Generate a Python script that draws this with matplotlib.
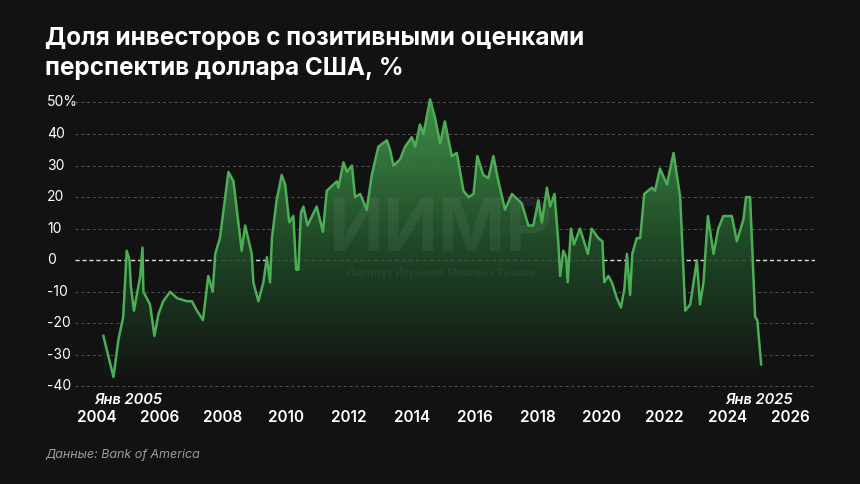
import numpy as np
import matplotlib
matplotlib.use("Agg")
import matplotlib.pyplot as plt
from matplotlib.colors import LinearSegmentedColormap

# ---------------------------------------------------------------------------
# Data
# ---------------------------------------------------------------------------
years = [
    2004.20, 2004.52, 2004.68, 2004.83, 2004.94, 2005.03, 2005.07, 2005.17, 2005.37, 2005.44,
    2005.47, 2005.68, 2005.82, 2005.95, 2006.10, 2006.32, 2006.53, 2006.85, 2007.01, 2007.17,
    2007.36, 2007.53, 2007.67, 2007.75, 2007.90, 2008.17, 2008.33, 2008.59, 2008.70, 2008.91,
    2008.96, 2009.12, 2009.28, 2009.39, 2009.49, 2009.55, 2009.70, 2009.86, 2009.97, 2010.10,
    2010.23, 2010.32, 2010.39, 2010.47, 2010.55, 2010.68, 2010.97, 2011.17, 2011.29, 2011.61,
    2011.66, 2011.82, 2011.93, 2012.09, 2012.19, 2012.35, 2012.56, 2012.72, 2012.93, 2013.20,
    2013.30, 2013.41, 2013.62, 2013.78, 2013.99, 2014.10, 2014.25, 2014.36, 2014.57, 2014.73,
    2014.89, 2015.04, 2015.26, 2015.42, 2015.63, 2015.79, 2015.95, 2016.07, 2016.26, 2016.42,
    2016.58, 2016.74, 2016.95, 2017.17, 2017.48, 2017.69, 2017.85, 2018.01, 2018.12, 2018.28,
    2018.38, 2018.52, 2018.64, 2018.70, 2018.80, 2018.89, 2018.94, 2019.04, 2019.14, 2019.33,
    2019.58, 2019.70, 2019.91, 2020.04, 2020.10, 2020.23, 2020.34, 2020.50, 2020.63, 2020.74,
    2020.82, 2020.92, 2020.99, 2021.13, 2021.24, 2021.37, 2021.61, 2021.71, 2021.87, 2022.09,
    2022.30, 2022.51, 2022.67, 2022.83, 2023.04, 2023.14, 2023.25, 2023.39, 2023.57, 2023.72,
    2023.88, 2024.15, 2024.31, 2024.52, 2024.60, 2024.73, 2024.89, 2024.96, 2025.08,
]
share = [
    -24, -37, -25, -18, 3, 0, -8, -16, -5, 4,
    -10, -14, -24, -17, -13, -10, -12, -13, -13, -16,
    -19, -5, -10, 2, 7, 28, 25, 3, 11, 2,
    -7, -13, -7, 1, -7, 7, 19, 27, 24, 12,
    14, -3, -3, 15, 17, 11, 17, 9, 22, 25,
    23, 31, 28, 30, 20, 21, 16, 27, 36, 38,
    35, 30, 32, 36, 39, 36, 43, 40, 51, 45,
    37, 44, 33, 34, 22, 20, 21, 33, 27, 26,
    33, 25, 16, 21, 18, 11, 11, 19, 12, 23,
    17, 21, 6, -5, 3, 1, -7, 10, 5, 10,
    2, 10, 7, 6, -7, -5, -7, -12, -15, -9,
    2, -11, 2, 7, 7, 21, 23, 22, 29, 24,
    34, 20, -16, -14, 0, -14, -7, 14, 2, 10,
    14, 14, 6, 13, 20, 20, -18, -19, -33,
]
y_ticks = [50, 40, 30, 20, 10, 0, -10, -20, -30, -40]
y_labels = ["50%", "40", "30", "20", "10", "0", "-10", "-20", "-30", "-40"]
x_ticks = [2004, 2006, 2008, 2010, 2012, 2014, 2016, 2018, 2020, 2022, 2024, 2026]

BG = "#121212"
GREEN = "#4cae55"
FONT = "Inter"

fig = plt.figure(figsize=(8.6, 4.84), dpi=100, facecolor=BG)
ax = fig.add_axes([47 / 860, 1 - 399 / 484, (815 - 47) / 860, (399 - 93) / 484])
ax.set_facecolor(BG)
XMIN, XMAX = 2002.41, 2026.79
YMIN, YMAX = -44, 53
ax.set_xlim(XMIN, XMAX)
ax.set_ylim(YMIN, YMAX)
for s in ax.spines.values():
    s.set_visible(False)
ax.set_yticks([])
ax.set_xticks(x_ticks)
ax.set_xticklabels([str(t) for t in x_ticks], color="white", fontsize=11,
                   fontweight="semibold", family=FONT)
ax.tick_params(axis="x", length=0, pad=8)

# grid
for v, lab in zip(y_ticks, y_labels):
    if v == 0:
        ax.plot([2003.3, XMAX], [v, v], color="#dddddd", lw=1.0, ls=(0, (3, 2)), zorder=1)
    else:
        ax.plot([2003.3, XMAX], [v, v], color="#555555", lw=0.7, ls=(0, (3, 3)), zorder=1)
    ax.text(XMIN, v, lab, color="white", fontsize=10, va="center", ha="left", family=FONT)

# watermark
ax.text(2014.9, 9, "ИИМР", color="#ffffff", alpha=0.06, fontsize=52, fontweight="bold",
        ha="center", va="center", zorder=3, family=FONT)
ax.text(2014.9, -4, "Институт Изучения Мировых Рынков", color="#ffffff", alpha=0.07,
        fontsize=7.5, ha="center", va="center", zorder=3, family=FONT)

# gradient fill under the line
x = np.array(years)
y = np.array(share)
poly = ax.fill_between(x, y, YMIN, color="none", lw=0)
cmap = LinearSegmentedColormap.from_list("g", [BG, "#22502a", "#47a052"])
grad = np.linspace(0, 1, 256).reshape(-1, 1)
im = ax.imshow(grad, extent=[XMIN, XMAX, -40, 52], origin="lower", aspect="auto",
               cmap=cmap, alpha=0.9, zorder=2)
im.set_clip_path(poly.get_paths()[0], transform=ax.transData)
ax.set_xlim(XMIN, XMAX)
ax.set_ylim(YMIN, YMAX)

ax.plot(x, y, color=GREEN, lw=1.8, zorder=4, solid_joinstyle="round")

ax.text(2005.0, -44.2, "Янв 2005", color="white", fontsize=10.5, fontstyle="italic",
        fontweight="semibold", ha="center", va="center", family=FONT)
ax.text(2025.0, -44.2, "Янв 2025", color="white", fontsize=10.5, fontstyle="italic",
        fontweight="semibold", ha="center", va="center", family=FONT)

fig.text(45 / 860, 1 - 38 / 484, "Доля инвесторов с позитивными оценками",
         color="white", fontsize=17.5, fontweight="bold", va="center", family=FONT)
fig.text(45 / 860, 1 - 68 / 484, "перспектив доллара США, %",
         color="white", fontsize=17.5, fontweight="bold", va="center", family=FONT)
fig.text(45 / 860, 1 - 455 / 484, "Данные: Bank of America", color="#9a9a9a",
         fontsize=9, fontstyle="italic", va="center", family=FONT)

fig.savefig("out.png", dpi=100, facecolor=BG)
